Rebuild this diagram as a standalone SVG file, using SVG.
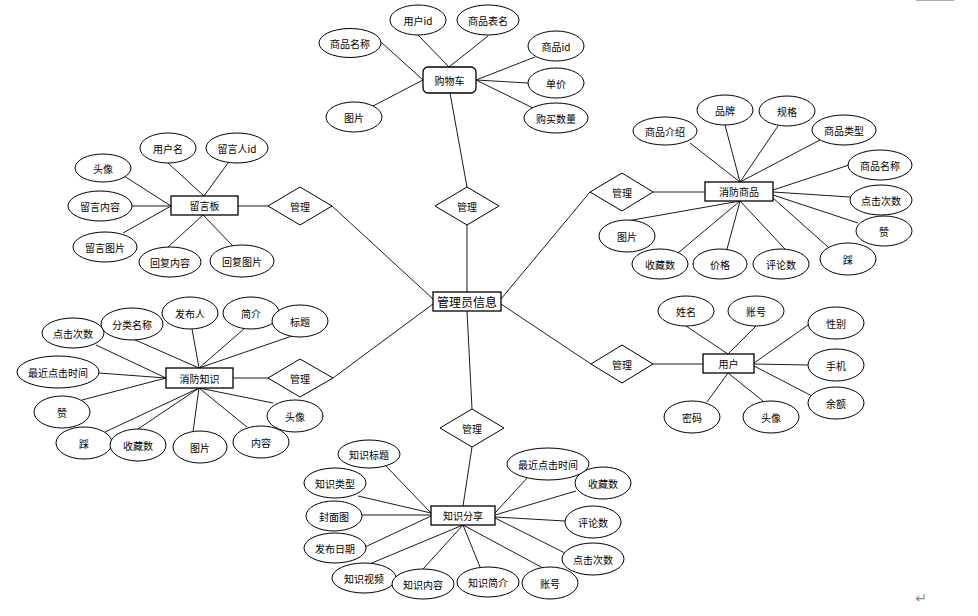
<svg xmlns="http://www.w3.org/2000/svg" width="978" height="616" viewBox="0 0 978 616">
<style>
.e{fill:#fff;stroke:#000;stroke-width:1}
.b{fill:#fff;stroke:#000;stroke-width:1.3}
.d{fill:#fff;stroke:#000;stroke-width:1}
.c line{stroke:#000;stroke-width:0.9}
text{font-family:"Noto Sans CJK SC","Liberation Sans",sans-serif;font-size:10px;fill:#000;text-anchor:middle;dominant-baseline:central}
.big{font-size:12px}
</style>
<rect width="978" height="616" fill="#fff"/>
<line x1="916" y1="0.5" x2="954" y2="0.5" stroke="#aaa" stroke-width="1"/>
<g class="c" id="connectors">
<line x1="450" y1="93" x2="467" y2="187"/>
<line x1="467" y1="225" x2="467" y2="292"/>
<line x1="467" y1="311" x2="472" y2="409"/>
<line x1="472" y1="447" x2="463" y2="506"/>
<line x1="501" y1="299" x2="590" y2="192"/>
<line x1="653" y1="192" x2="705" y2="192"/>
<line x1="501" y1="304" x2="591" y2="364"/>
<line x1="653" y1="364" x2="703" y2="364"/>
<line x1="433" y1="299" x2="332" y2="206"/>
<line x1="268" y1="206" x2="238" y2="206"/>
<line x1="433" y1="304" x2="333" y2="378"/>
<line x1="268" y1="378" x2="233" y2="378"/>
<line x1="381" y1="42" x2="423" y2="80"/>
<line x1="418" y1="35" x2="449" y2="67"/>
<line x1="488" y1="36" x2="449" y2="67"/>
<line x1="535" y1="57" x2="476" y2="80"/>
<line x1="528" y1="83" x2="476" y2="80"/>
<line x1="533" y1="108" x2="476" y2="80"/>
<line x1="373" y1="106" x2="423" y2="80"/>
<line x1="690" y1="143" x2="740" y2="182"/>
<line x1="725" y1="125" x2="740" y2="182"/>
<line x1="778" y1="126" x2="740" y2="182"/>
<line x1="820" y1="140" x2="740" y2="182"/>
<line x1="849" y1="165" x2="773" y2="190"/>
<line x1="850" y1="197" x2="773" y2="192"/>
<line x1="858" y1="223" x2="773" y2="195"/>
<line x1="828" y1="247" x2="773" y2="198"/>
<line x1="785" y1="249" x2="740" y2="201"/>
<line x1="727" y1="249" x2="740" y2="201"/>
<line x1="678" y1="253" x2="740" y2="201"/>
<line x1="627" y1="221" x2="740" y2="201"/>
<line x1="124" y1="176" x2="171" y2="206"/>
<line x1="168" y1="163" x2="204" y2="196"/>
<line x1="228" y1="163" x2="204" y2="196"/>
<line x1="132" y1="206" x2="171" y2="206"/>
<line x1="123" y1="233" x2="171" y2="206"/>
<line x1="168" y1="247" x2="203" y2="215"/>
<line x1="233" y1="246" x2="203" y2="215"/>
<line x1="96" y1="345" x2="166" y2="378"/>
<line x1="133" y1="339" x2="199" y2="368"/>
<line x1="192" y1="329" x2="199" y2="368"/>
<line x1="245" y1="328" x2="199" y2="368"/>
<line x1="292" y1="336" x2="199" y2="368"/>
<line x1="99" y1="373" x2="166" y2="378"/>
<line x1="82" y1="400" x2="166" y2="378"/>
<line x1="105" y1="432" x2="199" y2="388"/>
<line x1="138" y1="429" x2="199" y2="388"/>
<line x1="193" y1="432" x2="199" y2="388"/>
<line x1="247" y1="427" x2="199" y2="388"/>
<line x1="273" y1="403" x2="199" y2="388"/>
<line x1="686" y1="326" x2="728" y2="354"/>
<line x1="756" y1="326" x2="728" y2="354"/>
<line x1="811" y1="323" x2="754" y2="363"/>
<line x1="808" y1="365" x2="754" y2="364"/>
<line x1="812" y1="396" x2="754" y2="366"/>
<line x1="707" y1="402" x2="728" y2="373"/>
<line x1="763" y1="401" x2="728" y2="373"/>
<line x1="385" y1="465" x2="431" y2="513"/>
<line x1="358" y1="496" x2="431" y2="513"/>
<line x1="362" y1="515" x2="431" y2="515"/>
<line x1="365" y1="547" x2="431" y2="516"/>
<line x1="367" y1="565" x2="463" y2="525"/>
<line x1="423" y1="569" x2="463" y2="525"/>
<line x1="480" y1="567" x2="463" y2="525"/>
<line x1="543" y1="568" x2="463" y2="525"/>
<line x1="565" y1="553" x2="495" y2="518"/>
<line x1="565" y1="521" x2="495" y2="517"/>
<line x1="576" y1="491" x2="495" y2="515"/>
<line x1="528" y1="477" x2="495" y2="513"/>
</g>

<g id="admin"><rect class="b" x="433" y="292" width="68" height="19"/><text class="big" x="467" y="301.5">管理员信息</text></g>

<g id="rel-cart"><polygon class="d" points="467,187 499,206 467,225 435,206"/><text x="467" y="206">管理</text></g>
<g id="rel-goods"><polygon class="d" points="622,173 653,192 622,211 590,192"/><text x="622" y="192">管理</text></g>
<g id="rel-msg"><polygon class="d" points="300,187 332,206 300,225 268,206"/><text x="300" y="206">管理</text></g>
<g id="rel-know"><polygon class="d" points="300,359 333,378 300,397 268,378"/><text x="300" y="378">管理</text></g>
<g id="rel-user"><polygon class="d" points="622,345 653,364 622,383 591,364"/><text x="622" y="364">管理</text></g>
<g id="rel-share"><polygon class="d" points="472,409 504,428 472,447 440,428"/><text x="472" y="428">管理</text></g>

<g id="cart"><rect class="b" x="423" y="67" width="53" height="26" rx="5"/><text x="449.5" y="80">购物车</text></g>
<g id="cart-attrs">
<g id="cart-a1"><ellipse class="e" cx="350" cy="43" rx="31" ry="14.5"/><text x="350" y="43">商品名称</text></g>
<g id="cart-a2"><ellipse class="e" cx="418" cy="20" rx="28" ry="15"/><text x="418" y="20">用户id</text></g>
<g id="cart-a3"><ellipse class="e" cx="488" cy="20" rx="31" ry="15"/><text x="488" y="20">商品表名</text></g>
<g id="cart-a4"><ellipse class="e" cx="556" cy="46" rx="28" ry="15"/><text x="556" y="46">商品id</text></g>
<g id="cart-a5"><ellipse class="e" cx="556" cy="83" rx="28" ry="15"/><text x="556" y="83">单价</text></g>
<g id="cart-a6"><ellipse class="e" cx="556" cy="118" rx="32" ry="15"/><text x="556" y="118">购买数量</text></g>
<g id="cart-a7"><ellipse class="e" cx="354" cy="117" rx="28" ry="15"/><text x="354" y="117">图片</text></g>
</g>

<g id="goods"><rect class="b" x="705" y="182" width="68" height="19"/><text x="739" y="191.5">消防商品</text></g>
<g id="goods-attrs">
<g id="goods-a1"><ellipse class="e" cx="665" cy="131" rx="32" ry="14"/><text x="665" y="131">商品介绍</text></g>
<g id="goods-a2"><ellipse class="e" cx="725" cy="110" rx="28" ry="15"/><text x="725" y="110">品牌</text></g>
<g id="goods-a3"><ellipse class="e" cx="787" cy="111" rx="28" ry="15"/><text x="787" y="111">规格</text></g>
<g id="goods-a4"><ellipse class="e" cx="844" cy="130" rx="32" ry="15"/><text x="844" y="130">商品类型</text></g>
<g id="goods-a5"><ellipse class="e" cx="880" cy="165" rx="32" ry="15"/><text x="880" y="165">商品名称</text></g>
<g id="goods-a6"><ellipse class="e" cx="881" cy="200" rx="31" ry="15"/><text x="881" y="200">点击次数</text></g>
<g id="goods-a7"><ellipse class="e" cx="884" cy="231" rx="28" ry="15"/><text x="884" y="231">赞</text></g>
<g id="goods-a8"><ellipse class="e" cx="848" cy="259" rx="28" ry="16"/><text x="848" y="259">踩</text></g>
<g id="goods-a9"><ellipse class="e" cx="781" cy="264" rx="28" ry="15"/><text x="781" y="264">评论数</text></g>
<g id="goods-a10"><ellipse class="e" cx="720" cy="264" rx="27" ry="15"/><text x="720" y="264">价格</text></g>
<g id="goods-a11"><ellipse class="e" cx="660" cy="264" rx="28" ry="15"/><text x="660" y="264">收藏数</text></g>
<g id="goods-a12"><ellipse class="e" cx="627" cy="236" rx="28" ry="16"/><text x="627" y="236">图片</text></g>
</g>

<g id="msg"><rect class="b" x="171" y="196" width="67" height="19"/><text x="204.5" y="205.5">留言板</text></g>
<g id="msg-attrs">
<g id="msg-a1"><ellipse class="e" cx="103" cy="168" rx="28" ry="14"/><text x="103" y="168">头像</text></g>
<g id="msg-a2"><ellipse class="e" cx="168" cy="148" rx="28" ry="15"/><text x="168" y="148">用户名</text></g>
<g id="msg-a3"><ellipse class="e" cx="237" cy="148" rx="31" ry="15"/><text x="237" y="148">留言人id</text></g>
<g id="msg-a4"><ellipse class="e" cx="100" cy="206" rx="32" ry="15"/><text x="100" y="206">留言内容</text></g>
<g id="msg-a5"><ellipse class="e" cx="105" cy="247" rx="32" ry="15"/><text x="105" y="247">留言图片</text></g>
<g id="msg-a6"><ellipse class="e" cx="170" cy="262" rx="31" ry="15"/><text x="170" y="262">回复内容</text></g>
<g id="msg-a7"><ellipse class="e" cx="242" cy="261" rx="32" ry="16"/><text x="242" y="261">回复图片</text></g>
</g>

<g id="know"><rect class="b" x="166" y="368" width="67" height="20"/><text x="199.5" y="378">消防知识</text></g>
<g id="know-attrs">
<g id="know-a1"><ellipse class="e" cx="73" cy="333" rx="31" ry="15"/><text x="73" y="333">点击次数</text></g>
<g id="know-a2"><ellipse class="e" cx="132" cy="324" rx="31" ry="16"/><text x="132" y="324">分类名称</text></g>
<g id="know-a3"><ellipse class="e" cx="190" cy="313" rx="28" ry="16"/><text x="190" y="313">发布人</text></g>
<g id="know-a4"><ellipse class="e" cx="251" cy="313" rx="28" ry="16"/><text x="251" y="313">简介</text></g>
<g id="know-a5"><ellipse class="e" cx="300" cy="321" rx="28" ry="16"/><text x="300" y="321">标题</text></g>
<g id="know-a6"><ellipse class="e" cx="58" cy="372" rx="41" ry="16"/><text x="58" y="372">最近点击时间</text></g>
<g id="know-a7"><ellipse class="e" cx="62" cy="412" rx="28" ry="16"/><text x="62" y="412">赞</text></g>
<g id="know-a8"><ellipse class="e" cx="84" cy="443" rx="28" ry="16"/><text x="84" y="443">踩</text></g>
<g id="know-a9"><ellipse class="e" cx="138" cy="445" rx="28" ry="16"/><text x="138" y="445">收藏数</text></g>
<g id="know-a10"><ellipse class="e" cx="200" cy="447" rx="27" ry="16"/><text x="200" y="447">图片</text></g>
<g id="know-a11"><ellipse class="e" cx="261" cy="442" rx="28" ry="16"/><text x="261" y="442">内容</text></g>
<g id="know-a12"><ellipse class="e" cx="295" cy="416" rx="28" ry="16"/><text x="295" y="416">头像</text></g>
</g>

<g id="user"><rect class="b" x="703" y="354" width="51" height="19"/><text x="728.5" y="363.5">用户</text></g>
<g id="user-attrs">
<g id="user-a1"><ellipse class="e" cx="686" cy="311" rx="28" ry="15"/><text x="686" y="311">姓名</text></g>
<g id="user-a2"><ellipse class="e" cx="756" cy="311" rx="28" ry="15"/><text x="756" y="311">账号</text></g>
<g id="user-a3"><ellipse class="e" cx="836" cy="323" rx="28" ry="16"/><text x="836" y="323">性别</text></g>
<g id="user-a4"><ellipse class="e" cx="836" cy="365" rx="28" ry="16"/><text x="836" y="365">手机</text></g>
<g id="user-a5"><ellipse class="e" cx="836" cy="403" rx="28" ry="16"/><text x="836" y="403">余额</text></g>
<g id="user-a6"><ellipse class="e" cx="692" cy="417" rx="28" ry="16"/><text x="692" y="417">密码</text></g>
<g id="user-a7"><ellipse class="e" cx="771" cy="417" rx="28" ry="16"/><text x="771" y="417">头像</text></g>
</g>

<g id="share"><rect class="b" x="431" y="506" width="64" height="19"/><text x="463" y="515.5">知识分享</text></g>
<g id="share-attrs">
<g id="share-a1"><ellipse class="e" cx="369" cy="454" rx="31" ry="14"/><text x="369" y="454">知识标题</text></g>
<g id="share-a2"><ellipse class="e" cx="335" cy="483" rx="31" ry="15"/><text x="335" y="483">知识类型</text></g>
<g id="share-a3"><ellipse class="e" cx="334" cy="516" rx="28" ry="15"/><text x="334" y="516">封面图</text></g>
<g id="share-a4"><ellipse class="e" cx="335" cy="548" rx="31" ry="15"/><text x="335" y="548">发布日期</text></g>
<g id="share-a5"><ellipse class="e" cx="364" cy="578" rx="32" ry="15"/><text x="364" y="578">知识视频</text></g>
<g id="share-a6"><ellipse class="e" cx="423" cy="584" rx="31" ry="15"/><text x="423" y="584">知识内容</text></g>
<g id="share-a7"><ellipse class="e" cx="488" cy="582" rx="31" ry="15"/><text x="488" y="582">知识简介</text></g>
<g id="share-a8"><ellipse class="e" cx="550" cy="583" rx="28" ry="16"/><text x="550" y="583">账号</text></g>
<g id="share-a9"><ellipse class="e" cx="593" cy="559" rx="31" ry="16"/><text x="593" y="559">点击次数</text></g>
<g id="share-a10"><ellipse class="e" cx="593" cy="522" rx="28" ry="16"/><text x="593" y="522">评论数</text></g>
<g id="share-a11"><ellipse class="e" cx="603" cy="483" rx="28" ry="16"/><text x="603" y="483">收藏数</text></g>
<g id="share-a12"><ellipse class="e" cx="548" cy="464" rx="41" ry="16"/><text x="548" y="464">最近点击时间</text></g>
</g>

<text x="921" y="598" style="font-size:14px;fill:#888;font-family:'DejaVu Sans',sans-serif">↵</text>
</svg>
